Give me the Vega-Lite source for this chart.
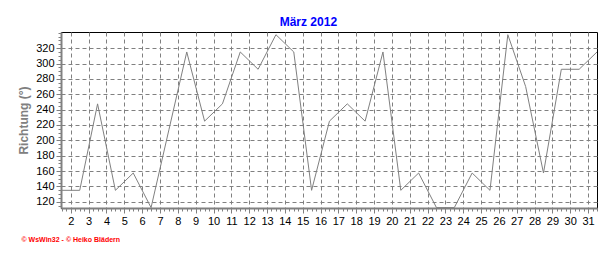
{
  "$schema": "https://vega.github.io/schema/vega-lite/v6.json",
  "autosize": {"type": "none"},
  "width": 536,
  "height": 176,
  "padding": {"left": 61, "top": 32, "right": 19, "bottom": 45},
  "background": "#ffffff",
  "config": {
    "view": {"stroke": "#000000", "strokeWidth": 1},
    "font": "Liberation Sans"
  },
  "title": {
    "text": "März 2012",
    "color": "#0000FF",
    "fontSize": 12,
    "fontWeight": "bold",
    "font": "Liberation Sans",
    "anchor": "middle",
    "frame": "bounds",
    "offset": 3
  },
  "data": {
    "values": [
      {"day": 1.5, "value": 135},
      {"day": 2.5, "value": 135},
      {"day": 3.5, "value": 247.5},
      {"day": 4.5, "value": 135},
      {"day": 5.5, "value": 157.5},
      {"day": 6.5, "value": 112.5},
      {"day": 7.5, "value": 213.8},
      {"day": 8.5, "value": 315},
      {"day": 9.5, "value": 225},
      {"day": 10.5, "value": 247.5},
      {"day": 11.5, "value": 315},
      {"day": 12.5, "value": 292.5},
      {"day": 13.5, "value": 337.5},
      {"day": 14.5, "value": 315},
      {"day": 15.5, "value": 135},
      {"day": 16.5, "value": 225},
      {"day": 17.5, "value": 247.5},
      {"day": 18.5, "value": 225},
      {"day": 19.5, "value": 315},
      {"day": 20.5, "value": 135},
      {"day": 21.5, "value": 157.5},
      {"day": 22.5, "value": 112.5},
      {"day": 23.5, "value": 112.5},
      {"day": 24.5, "value": 157.5},
      {"day": 25.5, "value": 135},
      {"day": 26.5, "value": 337.5},
      {"day": 27.5, "value": 270},
      {"day": 28.5, "value": 157.5},
      {"day": 29.5, "value": 292.5},
      {"day": 30.5, "value": 292.5},
      {"day": 31.5, "value": 315}
    ]
  },
  "resolve": {"axis": {"x": "independent", "y": "independent"}},
  "layer": [
    {
      "mark": {"type": "line", "color": "#808080", "strokeWidth": 1, "clip": true},
      "encoding": {
        "x": {
          "field": "day", "type": "quantitative",
          "scale": {"domain": [1.45, 31.5], "nice": false, "zero": false},
          "axis": {
            "orient": "bottom",
            "values": [2,3,4,5,6,7,8,9,10,11,12,13,14,15,16,17,18,19,20,21,22,23,24,25,26,27,28,29,30,31],
            "domain": false,
            "grid": true, "gridColor": "#808080", "gridDash": [4, 3], "gridWidth": 1,
            "ticks": true, "tickColor": "#808080", "tickSize": 5, "tickWidth": 1,
            "labelFont": "Liberation Sans", "labelFontSize": 11, "labelColor": "#000000",
            "labelPadding": 2, "labelFlush": false, "labelOverlap": false,
            "title": "© WsWin32  -  © Heiko Blädern",
            "titleColor": "#FF0000", "titleFont": "Liberation Sans", "titleFontSize": 7,
            "titleFontWeight": "bold", "titleAlign": "left", "titleBaseline": "alphabetic",
            "titleX": -40, "titleY": 33, "titleAnchor": "start"
          }
        },
        "y": {
          "field": "value", "type": "quantitative",
          "scale": {"domain": [112, 341], "nice": false, "zero": false},
          "axis": {
            "orient": "left",
            "values": [120,140,160,180,200,220,240,260,280,300,320],
            "domain": false,
            "grid": true, "gridColor": "#808080", "gridDash": [4, 3], "gridWidth": 1,
            "ticks": true, "tickColor": "#808080", "tickSize": 5, "tickWidth": 1,
            "labelFont": "Liberation Sans", "labelFontSize": 11, "labelColor": "#000000",
            "labelPadding": 2, "labelFlush": false, "labelOverlap": false,
            "title": "Richtung (°)",
            "titleColor": "#808080", "titleFont": "Liberation Sans", "titleFontSize": 12,
            "titleFontWeight": "bold", "titleAngle": -90, "titleAlign": "center",
            "titleBaseline": "middle", "titleX": -38, "titleY": 88
          }
        }
      }
    },
    {
      "mark": {"type": "point", "opacity": 0},
      "encoding": {
        "x": {
          "field": "day", "type": "quantitative",
          "axis": {
            "orient": "bottom",
            "values": [1.5,1.75,2,2.25,2.5,2.75,3,3.25,3.5,3.75,4,4.25,4.5,4.75,5,5.25,5.5,5.75,6,6.25,6.5,6.75,7,7.25,7.5,7.75,8,8.25,8.5,8.75,9,9.25,9.5,9.75,10,10.25,10.5,10.75,11,11.25,11.5,11.75,12,12.25,12.5,12.75,13,13.25,13.5,13.75,14,14.25,14.5,14.75,15,15.25,15.5,15.75,16,16.25,16.5,16.75,17,17.25,17.5,17.75,18,18.25,18.5,18.75,19,19.25,19.5,19.75,20,20.25,20.5,20.75,21,21.25,21.5,21.75,22,22.25,22.5,22.75,23,23.25,23.5,23.75,24,24.25,24.5,24.75,25,25.25,25.5,25.75,26,26.25,26.5,26.75,27,27.25,27.5,27.75,28,28.25,28.5,28.75,29,29.25,29.5,29.75,30,30.25,30.5,30.75,31,31.25,31.5],
            "domain": true, "domainColor": "#808080", "domainWidth": 2,
            "grid": false, "labels": false, "title": null,
            "ticks": true, "tickColor": "#808080", "tickSize": 3, "tickWidth": 1,
            "zindex": 1
          }
        },
        "y": {
          "field": "value", "type": "quantitative",
          "axis": {
            "orient": "left",
            "values": [115,120,125,130,135,140,145,150,155,160,165,170,175,180,185,190,195,200,205,210,215,220,225,230,235,240,245,250,255,260,265,270,275,280,285,290,295,300,305,310,315,320,325,330,335,340],
            "domain": true, "domainColor": "#808080", "domainWidth": 2,
            "grid": false, "labels": false, "title": null,
            "ticks": true, "tickColor": "#808080", "tickSize": 3, "tickWidth": 1,
            "zindex": 1
          }
        }
      }
    }
  ]
}
